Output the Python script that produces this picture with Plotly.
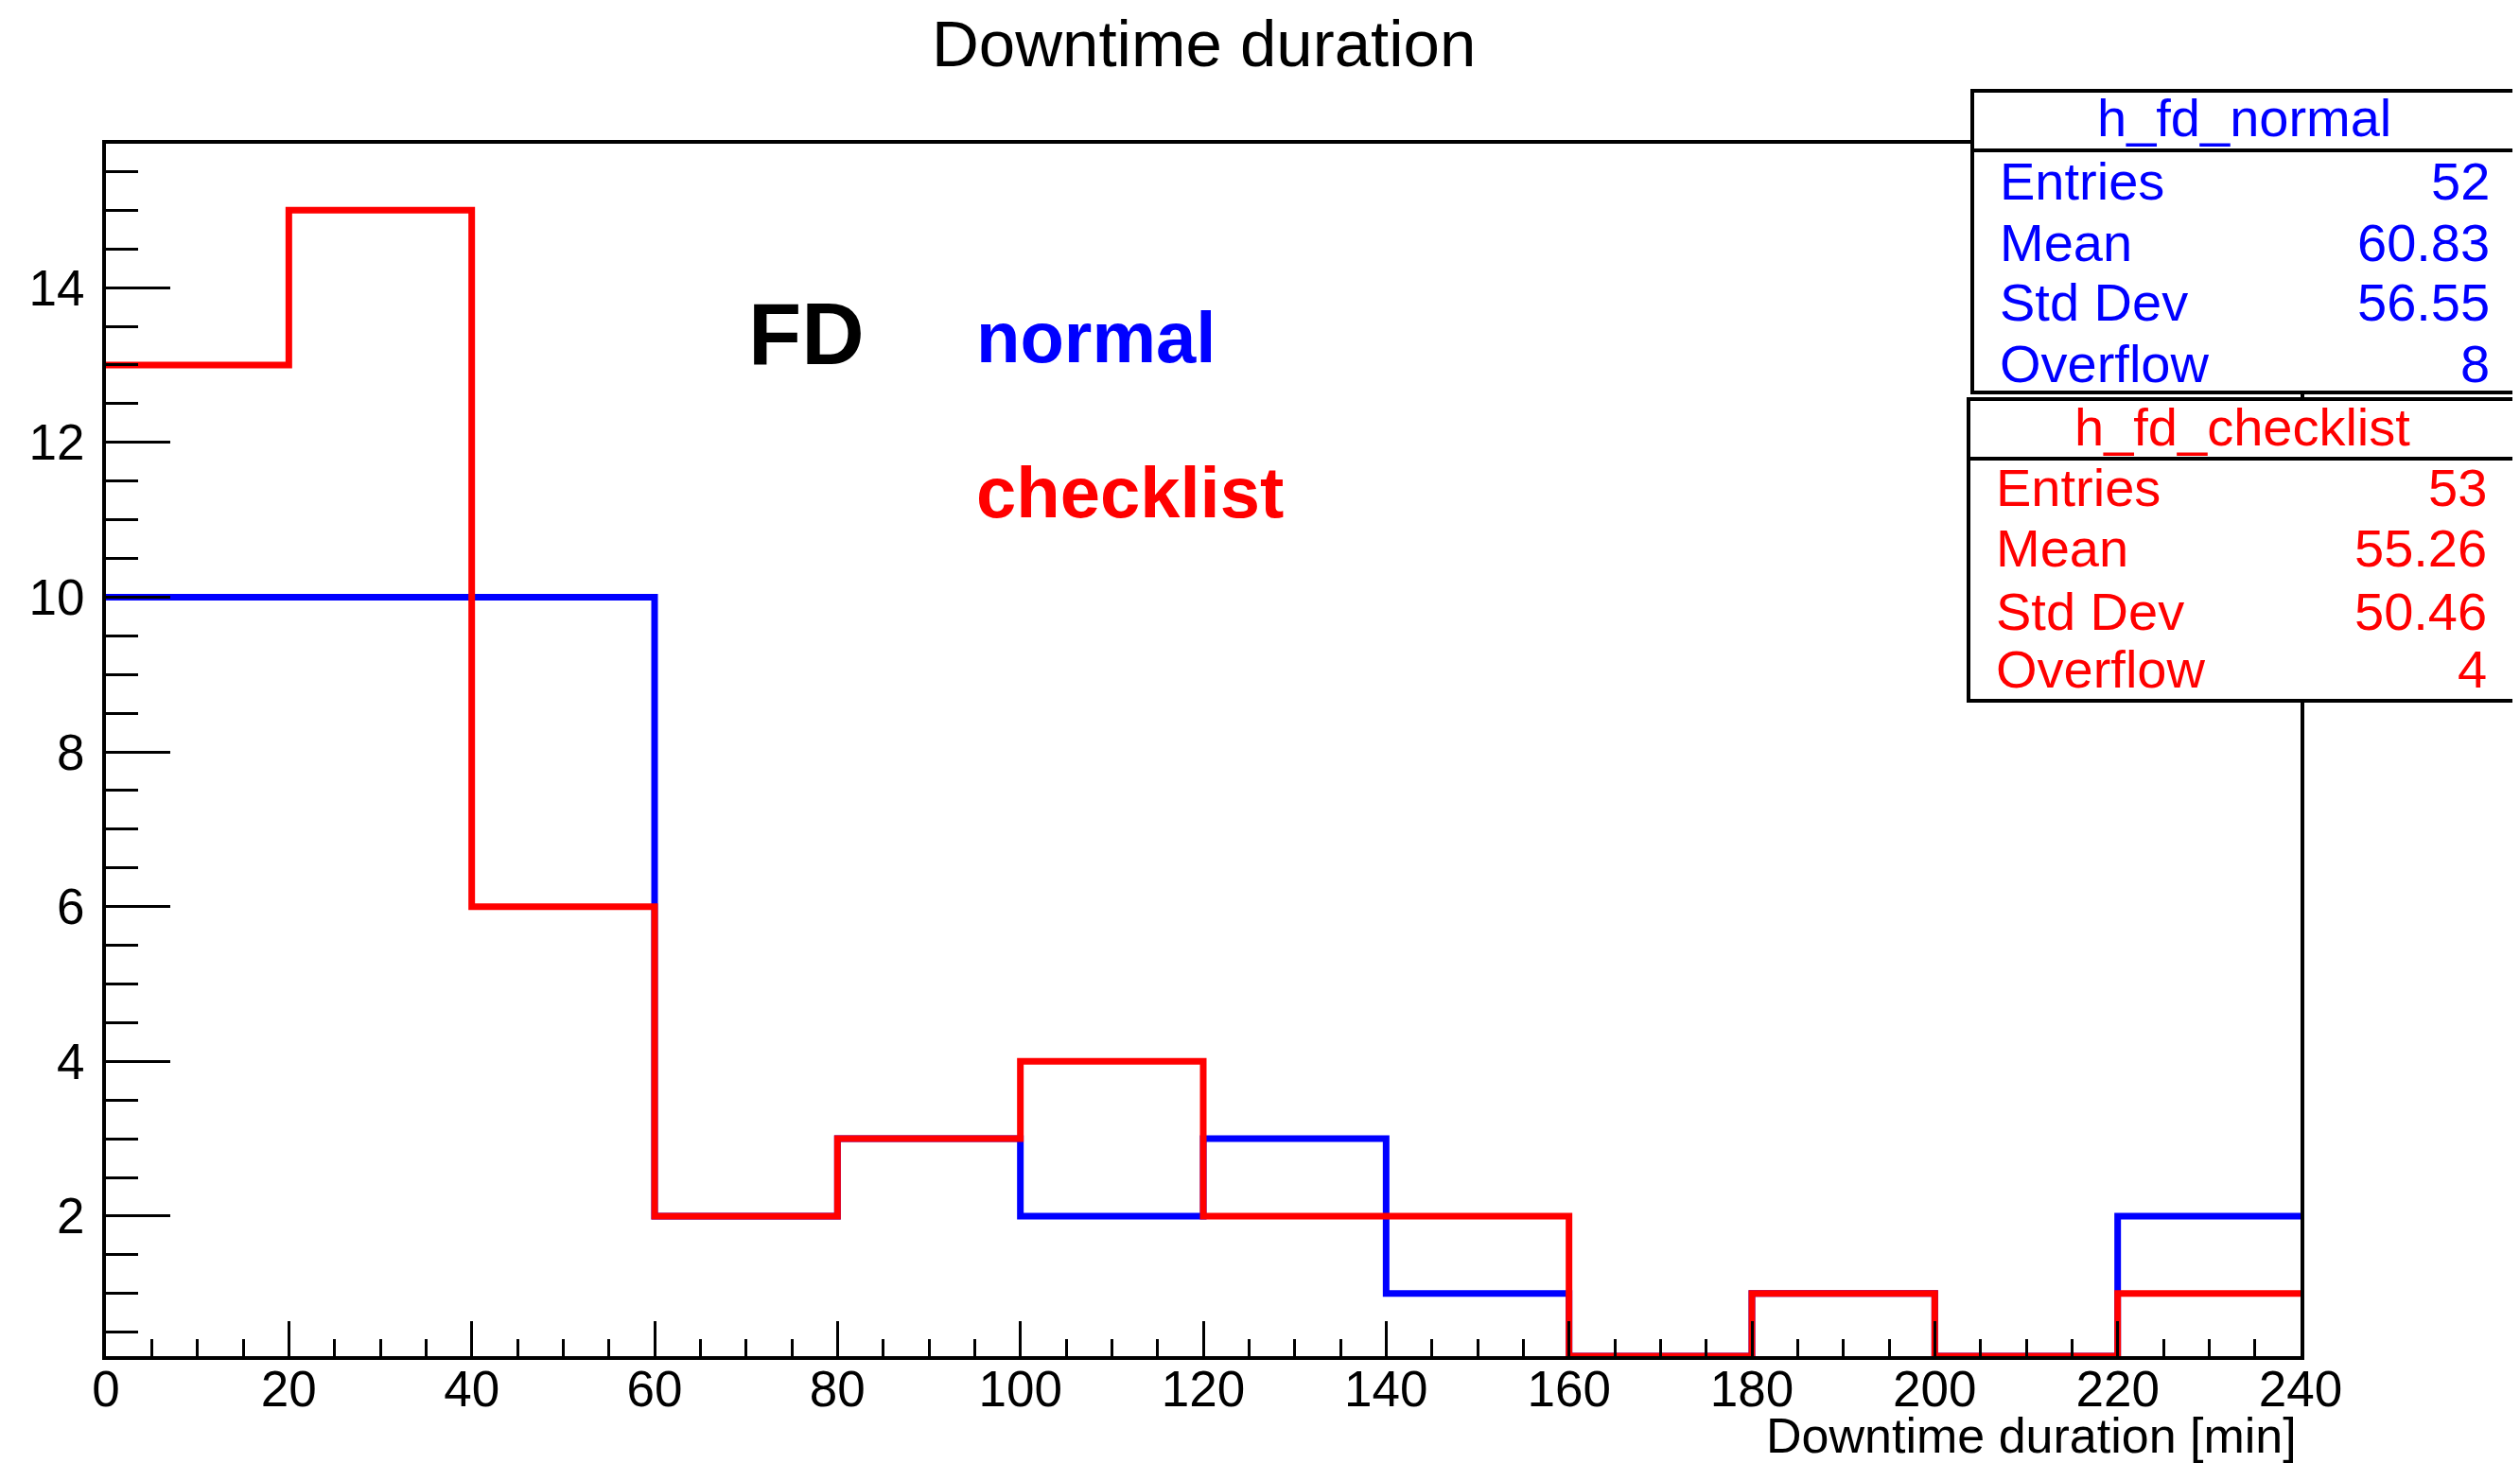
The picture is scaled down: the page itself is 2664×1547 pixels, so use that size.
import plotly.graph_objects as go

# ---------------- data ----------------
bin_edges = [0, 20, 40, 60, 80, 100, 120, 140, 160, 180, 200, 220, 240]
normal_counts = [10, 10, 10, 2, 3, 2, 3, 1, 0, 1, 0, 2]
checklist_counts = [13, 15, 6, 2, 3, 4, 2, 2, 0, 1, 0, 1]

x_ticks = [0, 20, 40, 60, 80, 100, 120, 140, 160, 180, 200, 220, 240]
y_ticks = [2, 4, 6, 8, 10, 12, 14]

stats_normal_name = "h_fd_normal"
stats_normal_labels = ["Entries", "Mean", "Std Dev", "Overflow"]
stats_normal_values = ["52", "60.83", "56.55", "8"]

stats_check_name = "h_fd_checklist"
stats_check_labels = ["Entries", "Mean", "Std Dev", "Overflow"]
stats_check_values = ["53", "55.26", "50.46", "4"]

# ---------------- layout geometry (screen pixels) ----------------
OFF = 8                      # default body margin of the page
W, H = 2664 - OFF, 1547 - OFF
L, R, T, B = 112, 2432, 152, 1434   # plot frame in screen pixels
YMIN, YMAX = 0.19, 15.86
FONT = "Liberation Sans, Arial, Helvetica, sans-serif"
BLUE = "#0000ff"
RED = "#ff0000"


def px(xpix):
    return (xpix - L) / (R - L)


def py(ypix):
    return (B - ypix) / (B - T)


def step(counts):
    ys = [max(c, YMIN) for c in counts]
    return ys + [ys[-1]]


fig = go.Figure()
fig.add_trace(go.Scatter(x=bin_edges, y=step(normal_counts), mode="lines",
                         line=dict(color=BLUE, width=7, shape="hv"),
                         showlegend=False, hoverinfo="skip"))
fig.add_trace(go.Scatter(x=bin_edges, y=step(checklist_counts), mode="lines",
                         line=dict(color=RED, width=7, shape="hv"),
                         showlegend=False, hoverinfo="skip"))

fig.update_layout(
    width=W, height=H,
    margin=dict(l=L - OFF, r=W - (R - OFF), t=T - OFF, b=H - (B - OFF), pad=0),
    paper_bgcolor="white", plot_bgcolor="white",
    font=dict(family=FONT, color="black", size=53),
    showlegend=False,
)
fig.update_xaxes(
    range=[0, 240], tickvals=x_ticks, ticktext=[str(v) for v in x_ticks],
    ticks="inside", ticklen=37, tickwidth=3, tickcolor="black",
    minor=dict(dtick=5, tick0=0, ticks="inside", ticklen=18, tickwidth=3, tickcolor="black"),
    showline=True, linewidth=4, linecolor="black", mirror=True,
    showgrid=False, zeroline=False, ticklabelstandoff=-15,
    tickfont=dict(size=53, family=FONT, color="black"),
)
fig.update_yaxes(
    range=[YMIN, YMAX], tickvals=y_ticks, ticktext=[str(v) for v in y_ticks],
    ticks="inside", ticklen=68, tickwidth=3, tickcolor="black",
    minor=dict(dtick=0.5, tick0=0, ticks="inside", ticklen=34, tickwidth=3, tickcolor="black"),
    showline=True, linewidth=4, linecolor="black", mirror=True,
    showgrid=False, zeroline=False, ticklabelstandoff=8,
    tickfont=dict(size=53, family=FONT, color="black"),
)

ann = []
# title
ann.append(dict(text="Downtime duration", x=0.5, y=py(46), xref="paper", yref="paper",
                xanchor="center", yanchor="middle", showarrow=False,
                font=dict(size=69, family=FONT, color="black")))
# x-axis title
ann.append(dict(text="Downtime duration [min]", x=px(2430), y=py(1518), xref="paper", yref="paper",
                xanchor="right", yanchor="middle", showarrow=False,
                font=dict(size=52, family=FONT, color="black")))
# in-plot labels
ann.append(dict(text="<b>FD</b>", x=70, y=13, xref="x", yref="y", xanchor="left",
                yanchor="middle", yshift=33, showarrow=False,
                font=dict(size=92, family=FONT, color="black")))
ann.append(dict(text="<b>normal</b>", x=95, y=13, xref="x", yref="y", xanchor="left",
                yanchor="middle", yshift=29, showarrow=False,
                font=dict(size=76, family=FONT, color=BLUE)))
ann.append(dict(text="<b>checklist</b>", x=95, y=11, xref="x", yref="y", xanchor="left",
                yanchor="middle", yshift=29, showarrow=False,
                font=dict(size=76, family=FONT, color=RED)))

shapes = []


def stats_box(name, labels, values, color, left, top, bottom, sep, head_base, row_bases, tx_left, tx_right):
    right = 2660
    shapes.append(dict(type="rect", xref="paper", yref="paper",
                       x0=px(left), x1=px(right), y0=py(bottom), y1=py(top),
                       line=dict(color="black", width=4), fillcolor="white", layer="above"))
    shapes.append(dict(type="line", xref="paper", yref="paper",
                       x0=px(left), x1=px(right), y0=py(sep), y1=py(sep),
                       line=dict(color="black", width=4), layer="above"))
    fs = 56
    c = 0.36 * fs
    ann.append(dict(text=name, x=px((left + right) / 2), y=py(head_base - c), xref="paper", yref="paper",
                    xanchor="center", yanchor="middle", showarrow=False,
                    font=dict(size=fs, family=FONT, color=color)))
    for lab, val, b in zip(labels, values, row_bases):
        ann.append(dict(text=lab, x=px(tx_left), y=py(b - c), xref="paper", yref="paper",
                        xanchor="left", yanchor="middle", showarrow=False,
                        font=dict(size=fs, family=FONT, color=color)))
        ann.append(dict(text=val, x=px(tx_right), y=py(b - c), xref="paper", yref="paper",
                        xanchor="right", yanchor="middle", showarrow=False,
                        font=dict(size=fs, family=FONT, color=color)))


stats_box(stats_normal_name, stats_normal_labels, stats_normal_values, BLUE,
          left=2085, top=96, bottom=415, sep=159, head_base=145,
          row_bases=[212, 277, 340, 405], tx_left=2112, tx_right=2634)
stats_box(stats_check_name, stats_check_labels, stats_check_values, RED,
          left=2081, top=422, bottom=741, sep=485, head_base=472,
          row_bases=[536, 600, 667, 728], tx_left=2108, tx_right=2631)

fig.update_layout(annotations=ann, shapes=shapes)
fig.write_html("out.html")
